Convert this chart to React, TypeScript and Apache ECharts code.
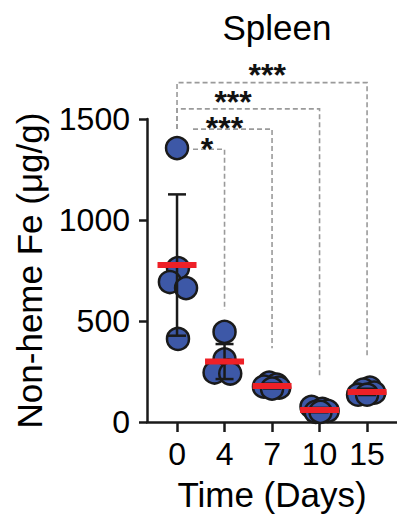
import React, { useEffect, useRef } from 'react';
import * as echarts from 'echarts';

const FONT = '"Liberation Sans", Arial, Helvetica, sans-serif';

const categories = ['0', '4', '7', '10', '15'];
const day0 = [1356, 762, 693, 663, 411];
const day4 = [446, 310, 255, 245, 240];
const day7 = [195, 185, 175, 170, 165];
const day10 = [75, 65, 55, 50, 50];
const day15 = [170, 160, 145, 135, 135];
const groups = [day0, day4, day7, day10, day15];

// horizontal spread of the dots inside each day (in category units)
const jitter0 = [0, 0.02, -0.15, 0.19, 0.02];
const jitter4 = [0, 0, 0.08, -0.21, 0.12];
const jitter7 = [-0.06, 0.1, -0.17, 0.15, 0];
const jitter10 = [-0.17, 0.06, 0.17, -0.08, 0.02];
const jitter15 = [0.06, -0.08, 0.15, -0.19, 0];
const jitters = [jitter0, jitter4, jitter7, jitter10, jitter15];

// significance brackets (from day 0 to target day)
const bracketTo = [4, 3, 2, 1];
const bracketLevel = [1680, 1550, 1450, 1350];
const bracketDrop = [320, 220, 365, 555];
const bracketLeftEnd = [1450, 1450, 1450, 1350];
const bracketLabels = ['***', '***', '***', '*'];
const labelX = [1.9, 1.18, 1.0, 0.63];
const labelLevel = [1718, 1584, 1455, 1351];

const mean = (a: number[]) => a.reduce((s, v) => s + v, 0) / a.length;
const sd = (a: number[]) => {
  const m = mean(a);
  return Math.sqrt(a.reduce((s, v) => s + (v - m) * (v - m), 0) / (a.length - 1));
};

export default function App() {
  const ref = useRef<HTMLDivElement>(null);
  useEffect(() => {
    if (!ref.current) return;
    const chart = echarts.init(ref.current, null, { renderer: 'svg' });
    const axisColor = '#1a1a1a';

    const pointData: any[] = [];
    groups.forEach((g, i) => {
      g.forEach((v, j) => pointData.push([i + jitters[i][j], v]));
    });
    const statData = groups.map((g, i) => [i, mean(g), sd(g)]);
    const bracketData = bracketTo.map((to, i) => [
      0, to, bracketLevel[i], bracketDrop[i], bracketLeftEnd[i], labelX[i], labelLevel[i],
    ]);

    chart.setOption({
      animation: false,
      grid: { left: 147, right: 0, top: 119, bottom: 99, containLabel: false },
      graphic: [
        {
          type: 'text',
          x: 277,
          y: 27,
          style: {
            text: 'Spleen',
            fontSize: 35,
            fontFamily: FONT,
            fill: '#000',
            align: 'center',
            verticalAlign: 'middle',
          },
        },
      ],
      xAxis: {
        type: 'value',
        min: -0.632,
        max: 4.63,
        splitLine: { show: false },
        axisLine: { show: true, onZero: false, lineStyle: { color: axisColor, width: 2.5 } },
        axisTick: {
          show: true,
          customValues: [0, 1, 2, 3, 4],
          length: 10,
          lineStyle: { color: axisColor, width: 2.5 },
        },
        axisLabel: {
          customValues: [0, 1, 2, 3, 4],
          formatter: (v: number) => categories[Math.round(v)],
          fontSize: 32,
          fontFamily: FONT,
          color: '#000',
          margin: 16,
        },
        name: 'Time (Days)',
        nameLocation: 'middle',
        nameGap: 55,
        nameTextStyle: { fontSize: 35, fontFamily: FONT, color: '#000' },
      },
      yAxis: {
        type: 'value',
        min: 0,
        max: 1500,
        interval: 500,
        splitLine: { show: false },
        axisLine: { show: true, onZero: false, lineStyle: { color: axisColor, width: 2.5 } },
        axisTick: { show: true, length: 8, lineStyle: { color: axisColor, width: 2.5 } },
        axisLabel: {
          fontSize: 32,
          fontFamily: FONT,
          color: '#000',
          margin: 17,
          formatter: (v: number) => String(v),
        },
        name: 'Non-heme Fe (μg/g)',
        nameLocation: 'middle',
        nameGap: 100,
        nameTextStyle: { fontSize: 35, fontFamily: FONT, color: '#000' },
      },
      series: [
        {
          type: 'custom',
          name: 'brackets',
          z: 1,
          clip: false,
          data: bracketData,
          renderItem: (params: any, api: any) => {
            const i = params.dataIndex;
            const from = api.value(0);
            const to = api.value(1);
            const level = api.value(2);
            const drop = api.value(3);
            const leftEnd = api.value(4);
            const pTop = api.coord([from, level]);
            const pRight = api.coord([to, level]);
            const pDrop = api.coord([to, drop]);
            const pts: number[][] = [];
            let startX = pTop[0];
            if (leftEnd < level) pts.push(api.coord([from, leftEnd]));
            else startX += 16;
            pts.push([startX, pTop[1]], pRight, pDrop);
            const lp = api.coord([api.value(5), api.value(6)]);
            return {
              type: 'group',
              children: [
                {
                  type: 'polyline',
                  shape: { points: pts },
                  style: { stroke: '#9a9a9a', lineWidth: 1.6, lineDash: [5, 3], fill: null },
                },
                {
                  type: 'text',
                  x: lp[0],
                  y: lp[1],
                  style: {
                    text: bracketLabels[i],
                    fontSize: 32,
                    fontWeight: 'bold',
                    fontFamily: FONT,
                    fill: '#111',
                    align: 'center',
                    verticalAlign: 'middle',
                  },
                },
              ],
            };
          },
        },
        {
          type: 'scatter',
          name: 'points',
          z: 2,
          symbol: 'circle',
          symbolSize: 22,
          itemStyle: { color: '#3D58A7', borderColor: '#1a1a1a', borderWidth: 2.5, opacity: 1 },
          data: pointData,
        },
        {
          type: 'custom',
          name: 'sd',
          z: 3,
          data: statData,
          renderItem: (params: any, api: any) => {
            const x = api.value(0);
            const m = api.value(1);
            const s = api.value(2);
            const lo = api.coord([x, m - s]);
            const hi = api.coord([x, m + s]);
            const st = { stroke: '#1a1a1a', lineWidth: 2.5 };
            return {
              type: 'group',
              children: [
                { type: 'line', shape: { x1: lo[0], y1: lo[1], x2: hi[0], y2: hi[1] }, style: st },
                { type: 'line', shape: { x1: hi[0] - 9, y1: hi[1], x2: hi[0] + 9, y2: hi[1] }, style: st },
                { type: 'line', shape: { x1: lo[0] - 9, y1: lo[1], x2: lo[0] + 9, y2: lo[1] }, style: st },
              ],
            };
          },
        },
        {
          type: 'scatter',
          name: 'mean',
          z: 4,
          symbol: 'rect',
          symbolSize: [39, 6],
          itemStyle: { color: '#EE2027', opacity: 1 },
          data: statData.map((d) => [d[0], d[1]]),
        },
      ],
    });
    return () => chart.dispose();
  }, []);
  return (
    <div
      ref={ref}
      style={{ position: 'fixed', left: 0, top: 0, width: 397, height: 521, background: '#fff' }}
    />
  );
}
